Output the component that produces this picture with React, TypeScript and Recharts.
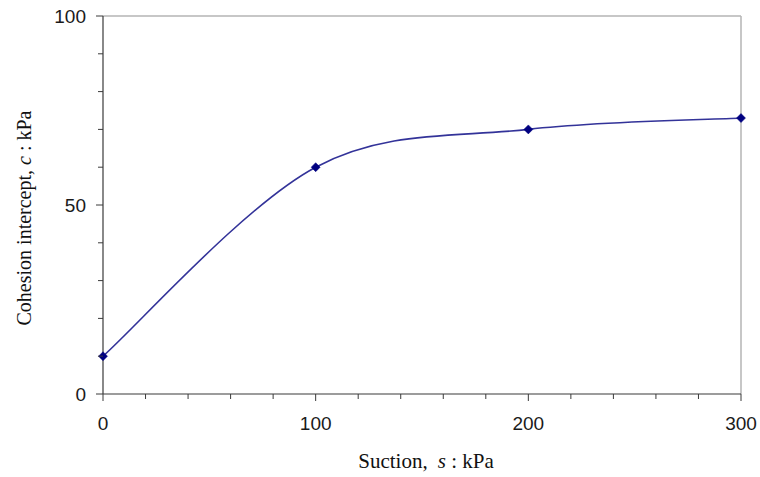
import React from "react";
import { LineChart, Line, XAxis, YAxis, ReferenceLine, Label } from "recharts";

const suction = [0, 100, 200, 300];
const cohesion = [10, 60, 70, 73];
const xTicks = [0, 20, 40, 60, 80, 100, 120, 140, 160, 180, 200, 220, 240, 260, 280, 300];
const xMajor = [0, 100, 200, 300];
const yTicks = [0, 10, 20, 30, 40, 50, 60, 70, 80, 90, 100];
const yMajor = [0, 50, 100];

const data = suction.map((s, i) => ({ s, c: cohesion[i] }));

const AXIS = "#3a3a3a";
const BORDER = "#b4b4b4";
const LINE = "#333399";
const MARK = "#000080";
const SANS = "'Liberation Sans', Arial, sans-serif";
const SERIF = "'Liberation Serif', 'Times New Roman', serif";

// Excel-like smoothed line (Catmull-Rom / cardinal tension 0)
function excelCurve(context: any) {
  let pts: number[][] = [];
  return {
    areaStart() {},
    areaEnd() {},
    lineStart() {
      pts = [];
    },
    point(x: number, y: number) {
      pts.push([+x, +y]);
    },
    lineEnd() {
      const n = pts.length;
      if (!n) return;
      context.moveTo(pts[0][0], pts[0][1]);
      for (let i = 0; i < n - 1; i++) {
        const p0 = pts[Math.max(i - 1, 0)];
        const p1 = pts[i];
        const p2 = pts[i + 1];
        const p3 = pts[Math.min(i + 2, n - 1)];
        context.bezierCurveTo(
          p1[0] + (p2[0] - p0[0]) / 6,
          p1[1] + (p2[1] - p0[1]) / 6,
          p2[0] - (p3[0] - p1[0]) / 6,
          p2[1] - (p3[1] - p1[1]) / 6,
          p2[0],
          p2[1]
        );
      }
    },
  };
}

const XTick = (props: any) => {
  const { x, y, payload } = props;
  const major = xMajor.includes(payload.value);
  return (
    <g>
      <line x1={x} y1={y} x2={x} y2={y + (major ? 7 : 5)} stroke={AXIS} strokeWidth={1} />
      {major && (
        <text x={x} y={y + 29} textAnchor="middle" dominantBaseline="central" fontFamily={SANS} fontSize={19} fill="#1a1a1a">
          {payload.value}
        </text>
      )}
    </g>
  );
};

const YTick = (props: any) => {
  const { x, y, payload } = props;
  const major = yMajor.includes(payload.value);
  return (
    <g>
      <line x1={x} y1={y} x2={x - (major ? 7 : 5)} y2={y} stroke={AXIS} strokeWidth={1} />
      {major && (
        <text x={x - 17} y={y} textAnchor="end" dominantBaseline="central" fontFamily={SANS} fontSize={19} fill="#1a1a1a">
          {payload.value}
        </text>
      )}
    </g>
  );
};

const Diamond = (props: any) => {
  const { cx, cy } = props;
  if (cx == null || cy == null) return null;
  const r = 4.5;
  return (
    <polygon
      points={`${cx},${cy - r} ${cx + r},${cy} ${cx},${cy + r} ${cx - r},${cy}`}
      fill={MARK}
      stroke={MARK}
      strokeWidth={0.5}
    />
  );
};

const XTitle = (props: any) => {
  const vb = props.viewBox;
  return (
    <text x={vb.x + vb.width / 2 + 4} y={468} textAnchor="middle" fontFamily={SERIF} fontSize={21} fill="#111">
      Suction,<tspan dx={10} fontStyle="italic">s</tspan> : kPa
    </text>
  );
};

const YTitle = () => {
  const cx = 24;
  const cy = 218;
  return (
    <text
      x={cx}
      y={cy}
      transform={`rotate(-90 ${cx} ${cy})`}
      textAnchor="middle"
      dominantBaseline="central"
      fontFamily={SERIF}
      fontSize={20}
      fill="#111"
    >
      Cohesion intercept, <tspan fontStyle="italic">c</tspan> : kPa
    </text>
  );
};

export default function App() {
  return (
    <div style={{ position: "absolute", left: 0, top: 0, width: 760, height: 477, background: "#fff" }}>
      <LineChart width={760} height={477} data={data} margin={{ top: 16, right: 19, bottom: 0, left: 0 }}>
        <ReferenceLine y={100} stroke={BORDER} strokeWidth={1.5} />
        <ReferenceLine x={300} stroke={BORDER} strokeWidth={1.5} />
        <XAxis
          dataKey="s"
          type="number"
          domain={[0, 300]}
          ticks={xTicks}
          interval={0}
          height={83}
          tickSize={0}
          tickMargin={0}
          tickLine={false}
          tick={<XTick />}
          axisLine={{ stroke: AXIS, strokeWidth: 1.2 }}
        >
          <Label content={<XTitle />} />
        </XAxis>
        <YAxis
          type="number"
          domain={[0, 100]}
          ticks={yTicks}
          interval={0}
          width={103}
          tickSize={0}
          tickMargin={0}
          tickLine={false}
          tick={<YTick />}
          axisLine={{ stroke: AXIS, strokeWidth: 1.2 }}
        >
          <Label content={<YTitle />} />
        </YAxis>
        <Line
          dataKey="c"
          type={excelCurve as any}
          stroke={LINE}
          strokeWidth={1.6}
          dot={<Diamond />}
          activeDot={false}
          isAnimationActive={false}
        />
      </LineChart>
    </div>
  );
}
